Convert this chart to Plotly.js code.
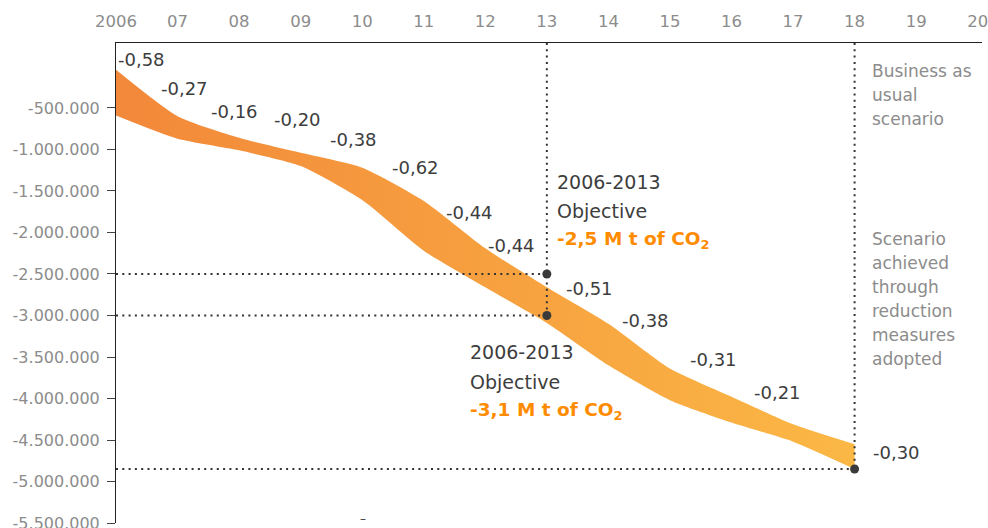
<!DOCTYPE html>
<html><head><meta charset="utf-8">
<script src="https://cdn.plot.ly/plotly-3.0.1.min.js"></script>
<style>html,body{margin:0;padding:0;background:#fff;}#chart{width:988px;height:528px;}</style>
</head><body><div id="chart"></div>
<script>
// ---------- DATA ----------
const years = [2006, 2007, 2008, 2009, 2010, 2011, 2012, 2013, 2014, 2015, 2016, 2017, 2018];
const upperBand = [-40000, -600000, -860000, -1040000, -1220000, -1620000, -2190000, -2660000, -3100000, -3640000, -3980000, -4310000, -4550000];
const lowerBand = [-590000, -870000, -1010000, -1200000, -1610000, -2220000, -2660000, -3090000, -3600000, -4020000, -4290000, -4520000, -4850000];
const bandLabels = ['-0,58', '-0,27', '-0,16', '-0,20', '-0,38', '-0,62', '-0,44', '-0,44', '-0,51', '-0,38', '-0,31', '-0,21', '-0,30'];
const xTickVals = [2006, 2007, 2008, 2009, 2010, 2011, 2012, 2013, 2014, 2015, 2016, 2017, 2018, 2019, 2020];
const xTickText = ['2006', '07', '08', '09', '10', '11', '12', '13', '14', '15', '16', '17', '18', '19', '20'];
const yTickVals = [-500000, -1000000, -1500000, -2000000, -2500000, -3000000, -3500000, -4000000, -4500000, -5000000, -5500000];
const yTickText = ['-500.000', '-1.000.000', '-1.500.000', '-2.000.000', '-2.500.000', '-3.000.000', '-3.500.000', '-4.000.000', '-4.500.000', '-5.000.000', '-5.500.000'];
const objectiveYears = [2013, 2013, 2018];
const objectiveValues = [-2500000, -3000000, -4850000];
const objective1Lines = ['2006-2013', 'Objective', '<b>-2,5 M t of CO<sub>2</sub></b>'];
const objective2Lines = ['2006-2013', 'Objective', '<b>-3,1 M t of CO<sub>2</sub></b>'];
const businessLines = ['Business as', 'usual', 'scenario'];
const achievedLines = ['Scenario', 'achieved', 'through', 'reduction', 'measures', 'adopted'];

// ---------- LAYOUT CONSTANTS ----------
const W = 988, H = 528;
const M = {l: 116, r: 6, t: 43, b: 5};
const X_RANGE = [2006, 2020.07];
const Y_RANGE = [-5500000, 283000];
const FONT = 'DejaVu Sans, Roboto, sans-serif';
const DARK = '#3d3d3d', GREY = '#8c8c8c', ORANGE = '#FF8C00';
const plotH = H - M.t - M.b;
const pyToPaper = py => (H - M.b - py) / plotH;

// ---------- TRACES ----------
const traces = [];
traces.push({
  x: years, y: lowerBand, type: 'scatter', mode: 'lines',
  line: {width: 0, shape: 'spline', smoothing: 0.6}, hoverinfo: 'skip', showlegend: false
});
traces.push({
  x: years, y: upperBand, type: 'scatter', mode: 'lines', fill: 'tonexty',
  fillcolor: '#F6A03E',
  fillgradient: {type: 'horizontal', colorscale: [[0, '#F2883A'], [1, '#FBB845']]},
  line: {width: 0, shape: 'spline', smoothing: 0.6}, hoverinfo: 'skip', showlegend: false
});

const guide = {color: '#333333', width: 2, dash: '2px,4.3px'};
objectiveValues.forEach((v, i) => {
  traces.push({x: [X_RANGE[0], objectiveYears[i]], y: [v, v], type: 'scatter', mode: 'lines',
    line: guide, hoverinfo: 'skip', showlegend: false, cliponaxis: false});
});
[...new Set(objectiveYears)].forEach(yr => {
  const lowest = Math.min(...objectiveValues.filter((v, i) => objectiveYears[i] === yr));
  traces.push({x: [yr, yr], y: [Y_RANGE[1], lowest], type: 'scatter', mode: 'lines',
    line: guide, hoverinfo: 'skip', showlegend: false});
});
traces.push({x: objectiveYears, y: objectiveValues, type: 'scatter', mode: 'markers',
  marker: {size: 9, color: '#3a3a3a'}, hoverinfo: 'skip', showlegend: false, cliponaxis: false});

// ---------- ANNOTATIONS ----------
const labelShift = [[25, 10], [7, 28], [-5, 26], [-3, 33], [-9, 28], [-8, 33], [-16, 36], [-35, 42], [-19, 35], [-24, 48], [-18, 37], [-16, 32], [42, -8]];
const annotations = bandLabels.map((t, i) => ({
  x: years[i], y: upperBand[i], xref: 'x', yref: 'y', text: t, showarrow: false,
  xshift: labelShift[i][0], yshift: labelShift[i][1],
  font: {family: FONT, size: 18, color: DARK}
}));

function block(lines, xval, xshift, pys, sizeFn, colorFn) {
  lines.forEach((t, i) => {
    annotations.push({
      x: xval, xref: 'x', xshift: xshift, xanchor: 'left',
      y: pyToPaper(pys[i]), yref: 'paper', yanchor: 'middle',
      text: t, showarrow: false, align: 'left',
      font: {family: FONT, size: sizeFn(i), color: colorFn(i)}
    });
  });
}
block(objective1Lines, 2013, 8, [182, 211, 240], i => i === 2 ? 18.5 : 19, i => i === 2 ? ORANGE : DARK);
block(objective2Lines, 2013, -79, [352, 382, 411], i => i === 2 ? 18.5 : 19, i => i === 2 ? ORANGE : DARK);
block(businessLines, 2018, 15, [71, 95, 118.5], () => 17, () => GREY);
block(achievedLines, 2018, 15, [239, 263, 287, 310.5, 334.5, 358.5], () => 17, () => GREY);
// small stray dash at the bottom edge of the original graphic
annotations.push({x: 2010, xref: 'x', xshift: 1, y: pyToPaper(519), yref: 'paper', yanchor: 'middle',
  text: '–', showarrow: false, font: {family: FONT, size: 12, color: DARK}});

// ---------- LAYOUT ----------
const layout = {
  width: W, height: H, margin: M,
  paper_bgcolor: '#ffffff', plot_bgcolor: '#ffffff',
  showlegend: false,
  font: {family: FONT, size: 16, color: GREY},
  xaxis: {
    range: X_RANGE, side: 'top', showgrid: false, zeroline: false,
    showline: true, linecolor: '#222', linewidth: 1,
    tickmode: 'array', tickvals: xTickVals, ticktext: xTickText, ticks: '',
    ticklabelstandoff: 8, ticklabeloverflow: 'allow', tickfont: {family: FONT, size: 16.5, color: GREY}
  },
  yaxis: {
    range: Y_RANGE, showgrid: false, zeroline: false,
    showline: true, linecolor: '#222', linewidth: 1,
    tickmode: 'array', tickvals: yTickVals, ticktext: yTickText,
    ticks: 'outside', ticklen: 8, tickcolor: '#444', tickwidth: 1,
    ticklabelstandoff: 4, ticklabeloverflow: 'allow', tickfont: {family: FONT, size: 16, color: GREY}
  },
  annotations: annotations
};

Plotly.newPlot('chart', traces, layout, {displayModeBar: false, staticPlot: true});
</script>
</body></html>
